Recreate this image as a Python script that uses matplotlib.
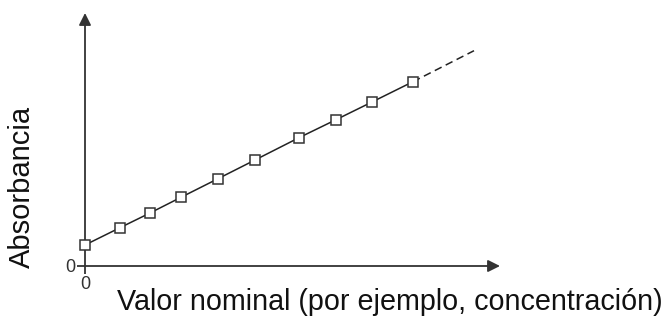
import numpy as np
import matplotlib.pyplot as plt

plt.rcParams['font.family'] = ['Liberation Sans', 'DejaVu Sans']

# datos (unidades arbitrarias)
x_vals = [0, 3.5, 6.5, 9.6, 13.3, 17.0, 21.4, 25.1, 28.7, 32.8]
y_vals = [2.1, 3.83, 5.3, 6.87, 8.73, 10.6, 12.83, 14.63, 16.4, 18.43]
x_ext = [32.8, 38.9]
y_ext = [18.43, 21.53]

fig = plt.figure(figsize=(6.64, 3.22), dpi=100)
ax = fig.add_axes([85 / 664, 56 / 322, 415 / 664, 253 / 322])
ax.set_xlim(0, 41.5)
ax.set_ylim(0, 25.3)
for s in ax.spines.values():
    s.set_visible(False)

# ejes con flechas
ax.annotate('', xy=(1, 0), xytext=(0, 0), xycoords='axes fraction',
            arrowprops=dict(arrowstyle='-|>', color='#333333', lw=1.3,
                            mutation_scale=18, shrinkA=0, shrinkB=0))
ax.annotate('', xy=(0, 1), xytext=(0, 0), xycoords='axes fraction',
            arrowprops=dict(arrowstyle='-|>', color='#333333', lw=1.3,
                            mutation_scale=18, shrinkA=0, shrinkB=0))

ax.plot(x_ext, y_ext, color='#222222', lw=1.1, ls=(0, (5, 3)), zorder=2)
ax.plot(x_vals, y_vals, color='#222222', lw=1.1, marker='s', markersize=7.5,
        markerfacecolor='white', markeredgecolor='#333333', markeredgewidth=1.1,
        clip_on=False, zorder=3)

ax.set_xticks([0])
ax.set_yticks([0])
ax.set_xticklabels(['0'])
ax.set_yticklabels(['0'])
ax.tick_params(length=6, width=1.3, color='#333333', labelsize=13,
               labelcolor='#333333', pad=1)

fig.text(389.5 / 664, 20 / 322, 'Valor nominal (por ejemplo, concentración)',
         fontsize=20.7, color='#111111', ha='center', va='center')
fig.text(22 / 664, 135 / 322, 'Absorbancia', fontsize=21, color='#111111',
         rotation=90, ha='center', va='center')

fig.savefig('out.png', dpi=100)
